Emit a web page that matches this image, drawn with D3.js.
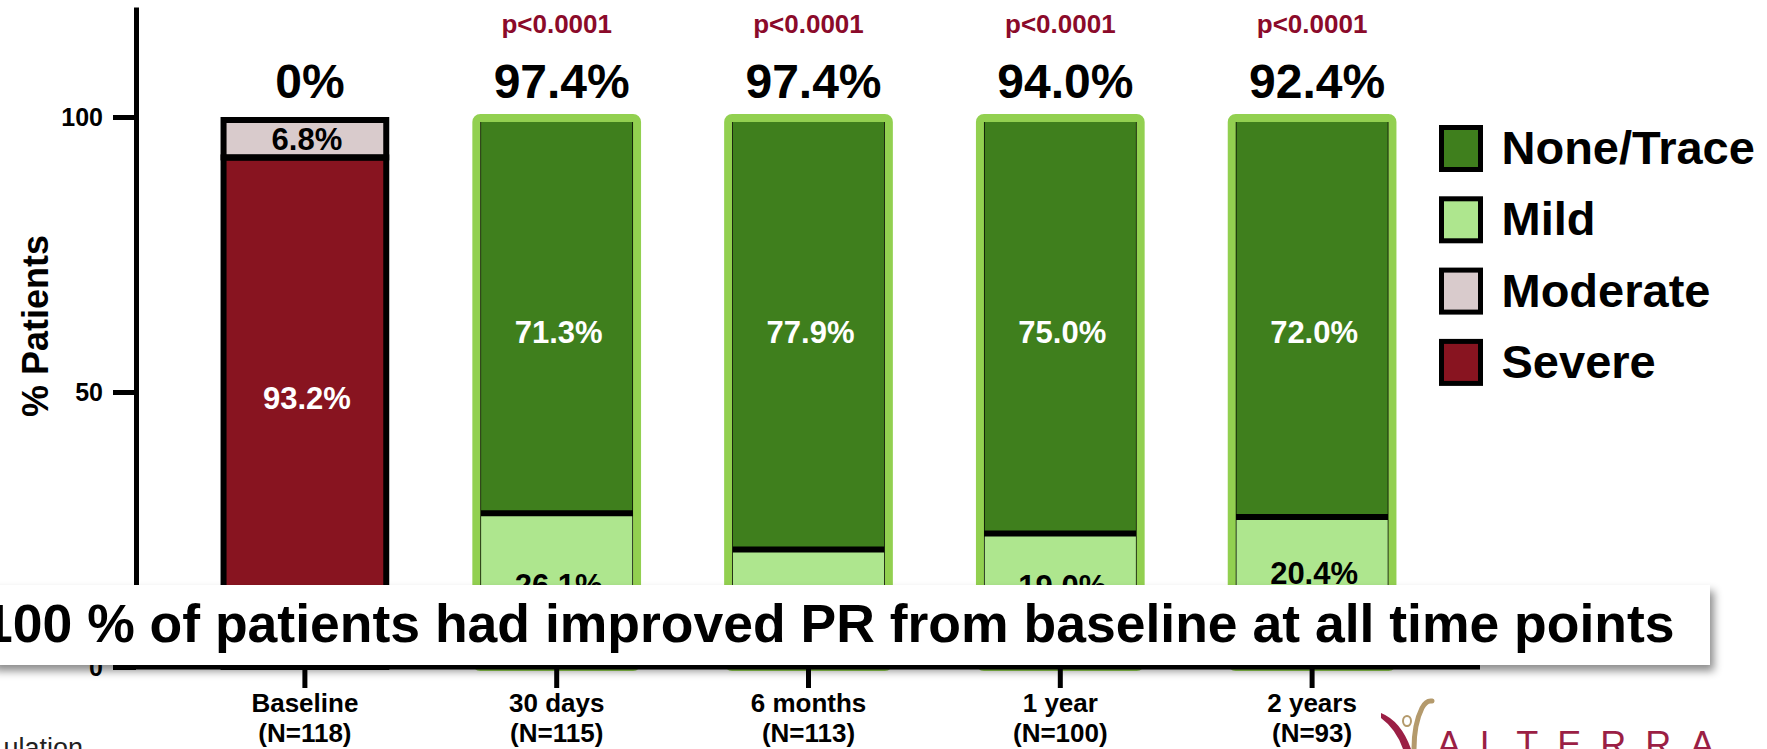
<!DOCTYPE html>
<html><head><meta charset="utf-8">
<script src="https://cdn.jsdelivr.net/npm/d3@7"></script>
<style>
html,body{margin:0;padding:0;background:#fff;overflow:hidden}
svg{display:block;font-family:"Liberation Sans",Arial,sans-serif}
</style></head><body>
<svg id="chart" width="1767" height="749"></svg>
<script>
// ---- data ----
const categories = ["Baseline", "30 days", "6 months", "1 year", "2 years"];
const nLabels = ["(N=118)", "(N=115)", "(N=113)", "(N=100)", "(N=93)"];
const severe = [93.2, 0, 0, 0, 0];
const moderate = [6.8, 2.6, 2.6, 6.0, 7.6];
const mild = [0, 26.1, 19.5, 19.0, 20.4];
const noneTrace = [0, 71.3, 77.9, 75.0, 72.0];
const improvedLabels = ["0%", "97.4%", "97.4%", "94.0%", "92.4%"];
const pValues = ["", "p<0.0001", "p<0.0001", "p<0.0001", "p<0.0001"];
const yTicks = [0, 50, 100];
const legendOrder = ["None/Trace", "Mild", "Moderate", "Severe"];
const stackKeys = ["Severe", "Moderate", "Mild", "None/Trace"];
const calloutText = "100 % of patients had improved PR from baseline at all time points";

// ---- setup ----
const svg = d3.select("#chart");
const colors = {"None/Trace": "#3f7f1d", "Mild": "#aee68e", "Moderate": "#d9cbcc", "Severe": "#881420"};
const labelColors = {"None/Trace": "#fff", "Mild": "#000", "Moderate": "#000", "Severe": "#fff"};
const x = d3.scaleBand().domain(categories).range([179, 1438]).paddingInner(0.33).paddingOuter(0.165);
const y = d3.scaleLinear().domain([0, 120]).range([667, 7]);
const bw = x.bandwidth();
const fmt = d3.format(".1f");

const table = categories.map((c, i) => ({cat: c, i: i, "Severe": severe[i], "Moderate": moderate[i], "Mild": mild[i], "None/Trace": noneTrace[i]}));
const series = d3.stack().keys(stackKeys)(table);

const defs = svg.append("defs");
const f = defs.append("filter").attr("id", "shadow").attr("x", "-5%").attr("y", "-30%").attr("width", "110%").attr("height", "170%");
f.append("feDropShadow").attr("dx", 4).attr("dy", 6).attr("stdDeviation", 4).attr("flood-color", "#000").attr("flood-opacity", 0.45);

// ---- bars ----
const isBase = i => severe[i] > 0;
const inset = i => isBase(i) ? 3 : 8;
const shift = i => isBase(i) ? 3 : 4;
const segTop = d => y(d[1]) + shift(d.data.i);
const segBot = d => d[0] === 0 ? y(0) : y(d[0]) + shift(d.data.i);

const barG = svg.append("g");
series.forEach(s => {
  barG.selectAll(null).data(s.filter(d => d[1] - d[0] > 0)).enter().append("rect")
    .attr("x", d => x(d.data.cat) + inset(d.data.i))
    .attr("width", d => bw - 2 * inset(d.data.i))
    .attr("y", segTop)
    .attr("height", d => segBot(d) - segTop(d))
    .attr("fill", colors[s.key])
    .attr("stroke", "#000")
    .attr("stroke-width", d => isBase(d.data.i) ? 6 : 1.5);
});
// separators between stacked segments
series.forEach(s => {
  barG.selectAll(null).data(s.filter(d => d[1] - d[0] > 0 && d[0] > 0)).enter().append("line")
    .attr("x1", d => x(d.data.cat) + inset(d.data.i))
    .attr("x2", d => x(d.data.cat) + bw - inset(d.data.i))
    .attr("y1", d => y(d[0]) + shift(d.data.i))
    .attr("y2", d => y(d[0]) + shift(d.data.i))
    .attr("stroke", "#000").attr("stroke-width", 6);
});
// green outlines for follow-up bars
barG.selectAll(null).data(table.filter(d => !isBase(d.i))).enter().append("rect")
  .attr("x", d => x(d.cat) + 4).attr("width", bw - 8)
  .attr("y", y(100) + 1).attr("height", y(0) - y(100) - 1)
  .attr("rx", 4).attr("fill", "none").attr("stroke", "#92d050").attr("stroke-width", 8);

// segment labels
const labelG = svg.append("g").attr("font-weight", "bold").attr("font-size", 31).attr("text-anchor", "middle");
series.forEach(s => {
  labelG.selectAll(null).data(s.filter(d => d[1] - d[0] >= 5)).enter().append("text")
    .attr("x", d => x(d.data.cat) + bw / 2 + 2)
    .attr("y", d => {
      if (s.key === "None/Trace") return y(59);
      if (s.key === "Severe") return y(47);
      return (segTop(d) + segBot(d)) / 2 + 11;
    })
    .attr("fill", labelColors[s.key])
    .text(d => fmt(d[1] - d[0]) + "%");
});

// top labels
svg.append("g").selectAll("text").data(table).enter().append("text")
  .attr("x", d => x(d.cat) + bw / 2 + 5).attr("y", 98)
  .attr("text-anchor", "middle").attr("font-weight", "bold").attr("font-size", 48)
  .text(d => improvedLabels[d.i]);
svg.append("g").selectAll("text").data(table.filter(d => pValues[d.i])).enter().append("text")
  .attr("x", d => x(d.cat) + bw / 2).attr("y", 33)
  .attr("text-anchor", "middle").attr("font-weight", "bold").attr("font-size", 26).attr("fill", "#8b0a2a")
  .text(d => pValues[d.i]);

// ---- axes ----
const yAxisX = 136;
const yAx = svg.append("g").attr("transform", `translate(${yAxisX},0)`)
  .call(d3.axisLeft(y).tickValues(yTicks).tickSize(23).tickSizeOuter(0).tickPadding(10));
yAx.select(".domain").attr("stroke-width", 5);
yAx.selectAll(".tick line").attr("stroke-width", 5);
yAx.selectAll(".tick text").attr("font-size", 25).attr("font-weight", "bold").attr("font-family", "Liberation Sans, Arial, sans-serif").attr("fill", "#000");

const xAx = svg.append("g").attr("transform", `translate(0,${y(0)})`)
  .call(d3.axisBottom(x).tickSize(21).tickSizeOuter(0).tickFormat(""));
xAx.select(".domain").remove();
xAx.selectAll(".tick line").attr("stroke-width", 5);
svg.append("line").attr("x1", yAxisX - 23).attr("x2", 1480).attr("y1", y(0)).attr("y2", y(0))
  .attr("stroke", "#000").attr("stroke-width", 5);
const xl = svg.append("g").attr("font-weight", "bold").attr("font-size", 26).attr("text-anchor", "middle");
xl.selectAll(null).data(categories).enter().append("text")
  .attr("x", d => x(d) + bw / 2).attr("y", 712).text(d => d);
xl.selectAll(null).data(nLabels).enter().append("text")
  .attr("x", (d, i) => x(categories[i]) + bw / 2).attr("y", 742).text(d => d);

svg.append("text").attr("transform", "translate(48,326) rotate(-90)")
  .attr("text-anchor", "middle").attr("font-weight", "bold").attr("font-size", 36).text("% Patients");

// ---- legend ----
const lg = svg.append("g").selectAll("g").data(legendOrder).enter().append("g")
  .attr("transform", (d, i) => `translate(1441.5,${127.5 + i * 71.3})`);
lg.append("rect").attr("width", 39).attr("height", 42).attr("fill", d => colors[d]).attr("stroke", "#000").attr("stroke-width", 5);
lg.append("text").attr("x", 60).attr("y", 36.5).attr("font-weight", "bold").attr("font-size", 47).text(d => d);

// ---- callout ----
svg.append("rect").attr("x", -10).attr("y", 585).attr("width", 1720).attr("height", 80)
  .attr("fill", "#fff").attr("filter", "url(#shadow)");
svg.append("text").attr("x", -17).attr("y", 642).attr("font-weight", "bold").attr("font-size", 53.5).text(calloutText);

// ---- footer bits ----
svg.append("text").attr("x", 83).attr("y", 757).attr("text-anchor", "end").attr("font-size", 27).attr("fill", "#222").text("ulation");
svg.append("path").attr("d", "M1381,713 Q1401,721 1411,749 L1403,749 Q1396,729 1381,718 Z").attr("fill", "#9b1f45");
svg.append("path").attr("d", "M1432,701 Q1426,700 1422,708 Q1414,724 1414,749").attr("fill", "none").attr("stroke", "#b49a6c").attr("stroke-width", 5).attr("stroke-linecap", "round");
svg.append("ellipse").attr("cx", 1407).attr("cy", 721).attr("rx", 4).attr("ry", 5).attr("fill", "#fff").attr("stroke", "#b49a6c").attr("stroke-width", 2);
svg.append("text").attr("x", 1437).attr("y", 757).attr("font-size", 36).attr("letter-spacing", 19).attr("fill", "#9b1f45").text("ALTERRA");
</script>
</body></html>
